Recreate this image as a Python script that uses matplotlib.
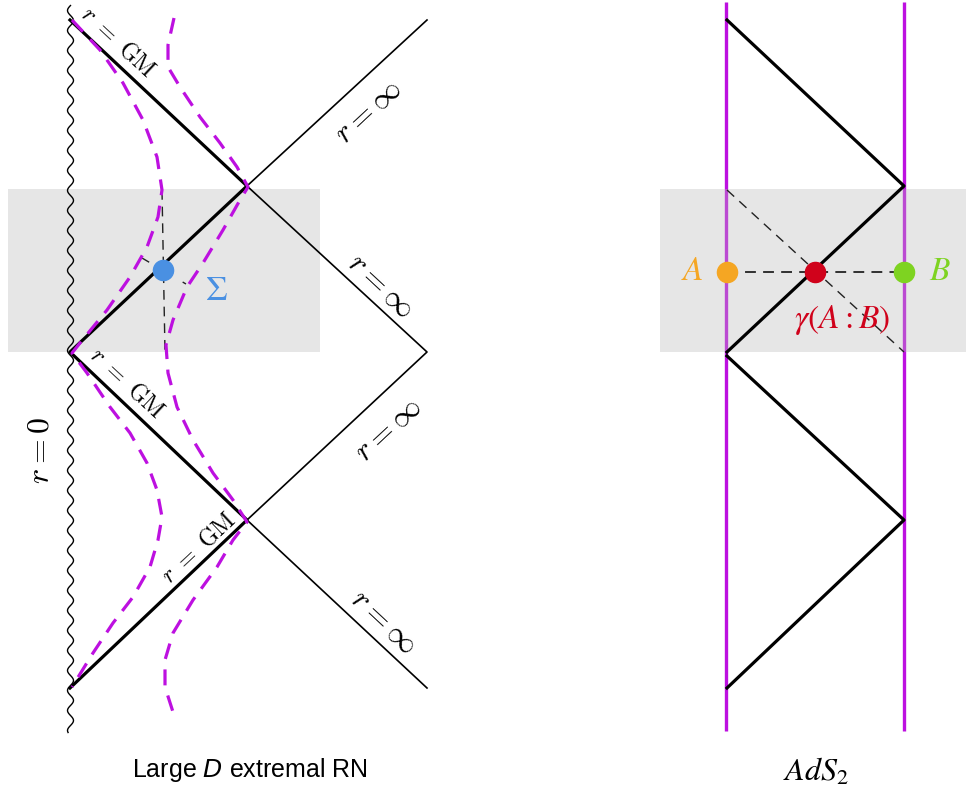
import matplotlib.pyplot as plt
from matplotlib.patches import Rectangle

# ---- data (canvas pixel coordinates) ----
# left diagram: thick horizon zigzag and thin boundary zigzag
horizon_x = [70, 247, 70, 247, 70]
horizon_y = [20, 186, 352, 520, 688]
boundary_x = [427, 247, 427, 247, 427]
boundary_y = [20, 186, 352, 520, 688]
sing_x = [70, 70]
sing_y = [5, 732]

# dashed magenta curves (left one bulges out, right one pinches the horizons)
curve_l_x = [72, 100, 123, 143, 157, 162, 158, 147, 130, 107, 80, 72,
             87, 110, 130, 147, 157, 162, 158, 150, 133, 113, 93, 72]
curve_l_y = [20, 50, 83, 120, 157, 190, 217, 247, 277, 310, 343, 353,
             373, 407, 433, 463, 490, 517, 540, 567, 597, 623, 653, 687]
curve_r_x = [174, 168, 168, 180, 200, 220, 237, 248, 240, 223, 203, 187, 173, 166,
             168, 177, 193, 213, 233, 247, 233, 217, 193, 173, 165, 165, 173]
curve_r_y = [18, 45, 67, 87, 117, 143, 167, 187, 200, 230, 263, 287, 320, 345,
             373, 407, 440, 473, 500, 522, 540, 567, 600, 633, 660, 687, 712]

# extremal surface Sigma
sigma_pt = (163, 270)
sigma_vert_x = [162, 165]
sigma_vert_y = [190, 352]
sigma_perp_x = [142, 186]
sigma_perp_y = [258, 284]

# right diagram (AdS2 strip)
bdy_left_x, bdy_right_x = 726, 904
bdy_y = [2, 731]
zig1_x = [727, 904, 727]
zig1_y = [20, 186, 352]
zig2_x = [727, 904, 727]
zig2_y = [356, 520, 688]
diag_x = [727, 904]
diag_y = [190, 352]
hline_x = [727, 904]
hline_y = [272, 272]
pt_A = (727, 272)
pt_mid = (815, 272)
pt_B = (904, 272)

# shaded strips (x0, y0, w, h)
shade_left = (8, 189, 312, 163)
shade_right = (660, 189, 306, 163)

MAGENTA = '#BD10E0'
BLUE = '#4A90E2'
ORANGE = '#F5A623'
GREEN = '#7ED321'
RED = '#D0021B'
GREY = '#B8B8B8'

fig = plt.figure(figsize=(9.66, 7.93), dpi=100)
ax = fig.add_axes([0, 0, 1, 1])
ax.set_xlim(0, 966)
ax.set_ylim(793, 0)
ax.axis('off')

# boundaries of AdS2 strip go under the shading
ax.plot([bdy_left_x] * 2, bdy_y, color=MAGENTA, lw=2.4, zorder=1, solid_capstyle='butt')
ax.plot([bdy_right_x] * 2, bdy_y, color=MAGENTA, lw=2.4, zorder=1, solid_capstyle='butt')

for (x0, y0, w, h) in [shade_left, shade_right]:
    ax.add_patch(Rectangle((x0, y0), w, h, facecolor=GREY, edgecolor='none',
                           alpha=0.35, zorder=2))

# singularity r = 0 (wiggly line)
sing, = ax.plot(sing_x, sing_y, color='black', lw=1.0, zorder=3)
sing.set_sketch_params(3.0, 20, 1)

ax.plot(boundary_x, boundary_y, color='black', lw=1.2, zorder=3)
ax.plot(horizon_x, horizon_y, color='black', lw=2.3, zorder=4)

ax.plot(curve_l_x, curve_l_y, color=MAGENTA, lw=2.3, dashes=(5, 3.3), zorder=5)
ax.plot(curve_r_x, curve_r_y, color=MAGENTA, lw=2.3, dashes=(5, 3.3), zorder=5)

ax.plot(sigma_vert_x, sigma_vert_y, color='#222222', lw=1.0, dashes=(7, 5), zorder=4)
ax.plot(sigma_perp_x, sigma_perp_y, color='#222222', lw=1.0, dashes=(6, 28), zorder=4)
ax.plot(*sigma_pt, 'o', color=BLUE, ms=14.5, zorder=6)

# right diagram
ax.plot(zig1_x, zig1_y, color='black', lw=2.3, zorder=4)
ax.plot(zig2_x, zig2_y, color='black', lw=2.3, zorder=4)
ax.plot(diag_x, diag_y, color='#222222', lw=1.0, dashes=(7, 5), zorder=3)
ax.plot(hline_x, hline_y, color='#222222', lw=1.3, dashes=(6, 4), zorder=3)
ax.plot(*pt_A, 'o', color=ORANGE, ms=14.5, zorder=6)
ax.plot(*pt_mid, 'o', color=RED, ms=14.5, zorder=6)
ax.plot(*pt_B, 'o', color=GREEN, ms=14.5, zorder=6)

# labels
cm = dict(math_fontfamily='cm', ha='center', va='center', rotation_mode='anchor', zorder=7)
ax.text(118, 42, r'$r\ =\ \mathrm{GM}$', fontsize=17, rotation=-43, **cm)
ax.text(127, 383, r'$r\ =\ \mathrm{GM}$', fontsize=17, rotation=-43, **cm)
ax.text(198, 548, r'$r\ =\ \mathrm{GM}$', fontsize=17, rotation=43, **cm)
ax.text(368, 112, r'$r = \infty$', fontsize=22, rotation=43, **cm)
ax.text(381, 286, r'$r = \infty$', fontsize=22, rotation=-43, **cm)
ax.text(388, 430, r'$r = \infty$', fontsize=22, rotation=43, **cm)
ax.text(384, 622, r'$r = \infty$', fontsize=22, rotation=-43, **cm)
ax.text(40, 450, r'$r = 0$', fontsize=23, rotation=90, **cm)

st = dict(math_fontfamily='stix', ha='center', va='center', zorder=7)
ax.text(216, 290, r'$\Sigma$', fontsize=25, color=BLUE, **st)
ax.text(692, 271, r'$A$', fontsize=24, color=ORANGE, **st)
ax.text(940, 270, r'$B$', fontsize=24, color=GREEN, **st)
ax.text(842, 320, r'$\gamma(A:B)$', fontsize=24, color=RED, **st)
ax.text(816, 772, r'$AdS_2$', fontsize=23, **st)
ax.text(250, 770, r'Large $\mathit{D}$ extremal RN', fontsize=18, ha='center', va='center',
        family='Liberation Sans', math_fontfamily='custom')

fig.savefig('out.png', dpi=100)
